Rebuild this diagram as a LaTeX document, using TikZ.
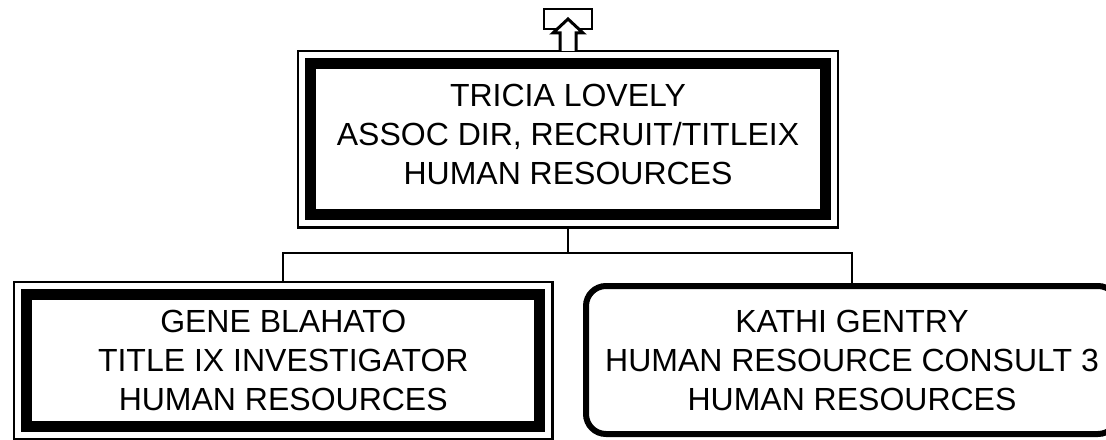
\documentclass[tikz,border=0pt]{standalone}
\usepackage{fontspec}
\setmainfont{Liberation Sans}
\begin{document}
\begin{tikzpicture}[x=0.75pt, y=-0.75pt,
  every node/.style={font=\fontsize{24}{29.25}\selectfont, align=center},
  heavybox/.style={draw, line width=8.25pt, outer sep=9.4pt},
  frame/.style={line width=1.6pt},
  softbox/.style={draw, line width=4.5pt, rounded corners=15pt},
  link/.style={line width=1.5pt}]
  \clip (0,0) rectangle (1106,439);
  \node[heavybox, minimum width=386.25pt, minimum height=113.6pt, text depth=7.5pt] (lovely) at (568,139.25)
    {TRICIA LOVELY\\ASSOC DIR, RECRUIT/TITLEIX\\HUMAN RESOURCES};
  \node[heavybox, minimum width=385.1pt, minimum height=99pt] (blahato) at (283.25,360.5)
    {GENE BLAHATO\\TITLE IX INVESTIGATOR\\HUMAN RESOURCES};
  \node[softbox, minimum width=399pt, minimum height=111pt] (gentry) at (852,360)
    {KATHI GENTRY\\HUMAN RESOURCE CONSULT 3\\HUMAN RESOURCES};
  \draw[frame] (lovely.north west) rectangle (lovely.south east);
  \draw[frame] (blahato.north west) rectangle (blahato.south east);
  \draw[link] (lovely.south) -- ++(0,25.5) -| (blahato.north);
  \draw[link] (lovely.south) -- ++(0,25.5) -| (gentry.north);
  \coordinate (up) at (lovely.north);
  \draw[line width=1.9pt] (up) ++(-24,-42) rectangle ++(48,20);
  \draw[line width=2.25pt, fill=white] (up) ++(-8,0) -- ++(0,-18) -- ++(-7,0) -- ++(15,-14)
    -- ++(15,14) -- ++(-7,0) -- ++(0,18);
\end{tikzpicture}
\end{document}
